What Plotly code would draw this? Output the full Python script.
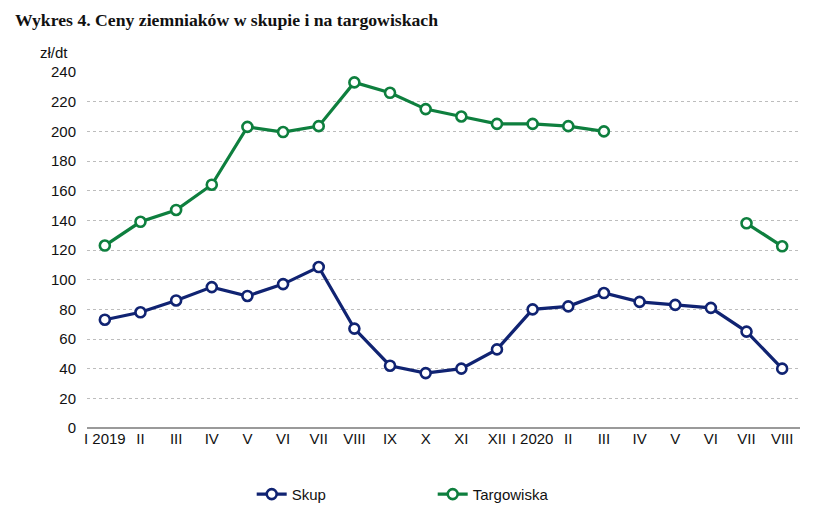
import plotly.graph_objects as go

months = ["I 2019", "II", "III", "IV", "V", "VI", "VII", "VIII", "IX", "X", "XI", "XII",
          "I 2020", "II", "III", "IV", "V", "VI", "VII", "VIII"]
skup = [73, 78, 86, 95, 89, 97, 108.5, 67, 42, 37, 40, 53, 80, 82, 91, 85, 83, 81, 65, 40]
targowiska = [123, 139, 147, 164, 203, 199.5, 203.5, 233, 226, 215, 210, 205, 205, 203.5, 200,
              None, None, None, 138, 122.5]
y_ticks = [0, 20, 40, 60, 80, 100, 120, 140, 160, 180, 200, 220, 240]

x = list(range(len(months)))
BLUE = "#102372"
GREEN = "#0E7F3E"
FONT = "Liberation Sans Narrow, Arial Narrow, Liberation Sans, Arial"

fig = go.Figure()
fig.add_trace(go.Scatter(
    x=x, y=skup, name="Skup", mode="lines+markers",
    line=dict(color=BLUE, width=3.2),
    marker=dict(symbol="circle", size=10, color="white", line=dict(color=BLUE, width=2.6)),
))
fig.add_trace(go.Scatter(
    x=x, y=targowiska, name="Targowiska", mode="lines+markers", connectgaps=False,
    line=dict(color=GREEN, width=3.2),
    marker=dict(symbol="circle", size=10, color="white", line=dict(color=GREEN, width=2.6)),
))

fig.update_layout(
    width=809, height=506,
    margin=dict(l=79, r=17, t=64, b=86, autoexpand=False),
    paper_bgcolor="white", plot_bgcolor="white",
    font=dict(family=FONT, size=15, color="#111111"),
    showlegend=True,
    legend=dict(orientation="h", x=0.231, xanchor="left", y=-0.14, yanchor="top",
                entrywidth=136, entrywidthmode="pixels",
                font=dict(family=FONT, size=15, color="#111111")),
    annotations=[
        dict(text="<b>Wykres 4. Ceny ziemniaków w skupie i na targowiskach</b>",
             xref="paper", yref="paper", x=-0.104, y=1.145, xanchor="left", yanchor="middle",
             showarrow=False, font=dict(family="Liberation Serif, DejaVu Serif", size=17.7, color="#111111")),
        dict(text="zł/dt", xref="paper", yref="paper", x=-0.0687, y=1.056, xanchor="left",
             yanchor="middle", showarrow=False, font=dict(family=FONT, size=15, color="#111111")),
    ],
)
fig.update_xaxes(
    tickmode="array", tickvals=x, ticktext=months, range=[-0.5, len(months) - 0.5],
    showgrid=False, showline=False, zeroline=False, ticks="", tickfont=dict(size=15),
)
fig.update_yaxes(
    range=[0, 240], tickmode="array", tickvals=y_ticks, showgrid=True,
    gridcolor="#BDBDBD", griddash="dot", gridwidth=1,
    zeroline=True, zerolinecolor="#9A9A9A", zerolinewidth=1.5,
    showline=False, ticks="", ticklabelstandoff=10, tickfont=dict(size=15),
)
fig.write_html("out.html")
